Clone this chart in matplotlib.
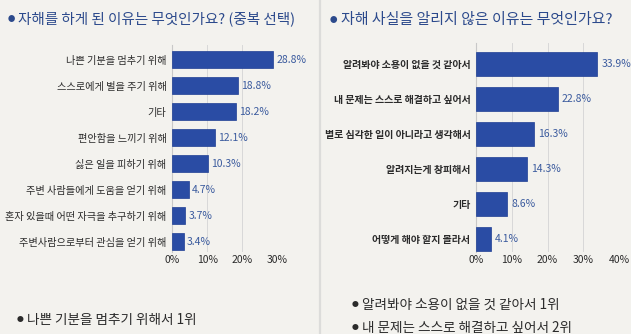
import matplotlib

matplotlib.use("Agg")
import matplotlib.pyplot as plt
from matplotlib.lines import Line2D

plt.rcParams["font.family"] = ["Noto Sans CJK KR", "DejaVu Sans"]

# ── data ──────────────────────────────────────────────────────────────
left_title = "자해를 하게 된 이유는 무엇인가요? (중복 선택)"
left_labels = [
    "나쁜 기분을 멈추기 위해",
    "스스로에게 벌을 주기 위해",
    "기타",
    "편안함을 느끼기 위해",
    "싫은 일을 피하기 위해",
    "주변 사람들에게 도움을 얻기 위해",
    "혼자 있을때 어떤 자극을 추구하기 위해",
    "주변사람으로부터 관심을 얻기 위해",
]
left_values = [28.8, 18.8, 18.2, 12.1, 10.3, 4.7, 3.7, 3.4]
left_ticks = [0, 10, 20, 30]
left_note = ["나쁜 기분을 멈추기 위해서 1위"]

right_title = "자해 사실을 알리지 않은 이유는 무엇인가요?"
right_labels = [
    "알려봐야 소용이 없을 것 같아서",
    "내 문제는 스스로 해결하고 싶어서",
    "별로 심각한 일이 아니라고 생각해서",
    "알려지는게 창피해서",
    "기타",
    "어떻게 해야 할지 몰라서",
]
right_values = [33.9, 22.8, 16.3, 14.3, 8.6, 4.1]
right_ticks = [0, 10, 20, 30, 40]
right_notes = ["알려봐야 소용이 없을 것 같아서 1위", "내 문제는 스스로 해결하고 싶어서 2위"]

BG = "#f3f2ee"
BAR = "#2a4ca4"
VAL = "#3b5b9e"
TITLE = "#2c4a8c"
TXT = "#2b2b2b"

fig = plt.figure(figsize=(6.31, 3.34), dpi=100)
fig.patch.set_facecolor(BG)

W, H = 631, 334


def px_axes(x0, y0, x1, y1):
    return fig.add_axes([x0 / W, 1 - y1 / H, (x1 - x0) / W, (y1 - y0) / H])


def draw_bars(ax, labels, values, ticks, ylim, label_size, label_weight):
    ypos = list(range(len(values)))
    ax.set_facecolor("none")
    ax.barh(ypos, values, height=0.66, color=BAR, edgecolor="#1e3f94", linewidth=0.5, zorder=3)
    ax.set_ylim(*ylim)
    ax.set_xlim(ticks[0], ticks[-1])
    ax.set_xticks(ticks)
    ax.set_xticklabels([f"{t}%" for t in ticks], fontsize=7.5, color=TXT)
    ax.set_yticks(ypos)
    ax.set_yticklabels(labels, fontsize=label_size, color=TXT, fontweight=label_weight)
    ax.tick_params(length=0, pad=4)
    ax.tick_params(axis="x", pad=2)
    ax.grid(axis="x", color="#d8d8d8", linewidth=0.7, zorder=0)
    for s in ["top", "right", "bottom"]:
        ax.spines[s].set_visible(False)
    ax.spines["left"].set_color("#c8c8c8")
    ax.spines["left"].set_linewidth(0.8)
    span = ticks[-1] - ticks[0]
    for y, v in zip(ypos, values):
        ax.text(v + span * 0.03, y, f"{v}%", va="center", ha="left", fontsize=7.5, color=VAL)


axl = px_axes(172, 45, 277.5, 252)
draw_bars(axl, left_labels, left_values, left_ticks, (7.4, -0.56), 7.35, "normal")

axr = px_axes(476, 43, 619, 252)
draw_bars(axr, right_labels, right_values, right_ticks, (5.37, -0.6), 7.2, "bold")

# divider between panels
fig.add_artist(Line2D([320 / W, 320 / W], [0, 1], color="#dcdcda", linewidth=1.6))


def bullet_text(x, y, s, size, color, weight="normal"):
    fig.text(x / W, 1 - y / H, "●", fontsize=size * 0.5, color=color, va="center", ha="left")
    fig.text((x + size * 1.0) / W, 1 - y / H, s, fontsize=size, color=color, va="center",
             ha="left", fontweight=weight)


# titles
bullet_text(8, 19, left_title, 10.5, TITLE, "medium")
bullet_text(330, 20, right_title, 10.8, TITLE, "medium")

# notes underneath
bullet_text(17, 320, left_note[0], 9.8, TXT)
for i, note in enumerate(right_notes):
    bullet_text(352, 305 + 23 * i, note, 9.8, TXT)

fig.savefig("out.png", dpi=100, facecolor=BG)
